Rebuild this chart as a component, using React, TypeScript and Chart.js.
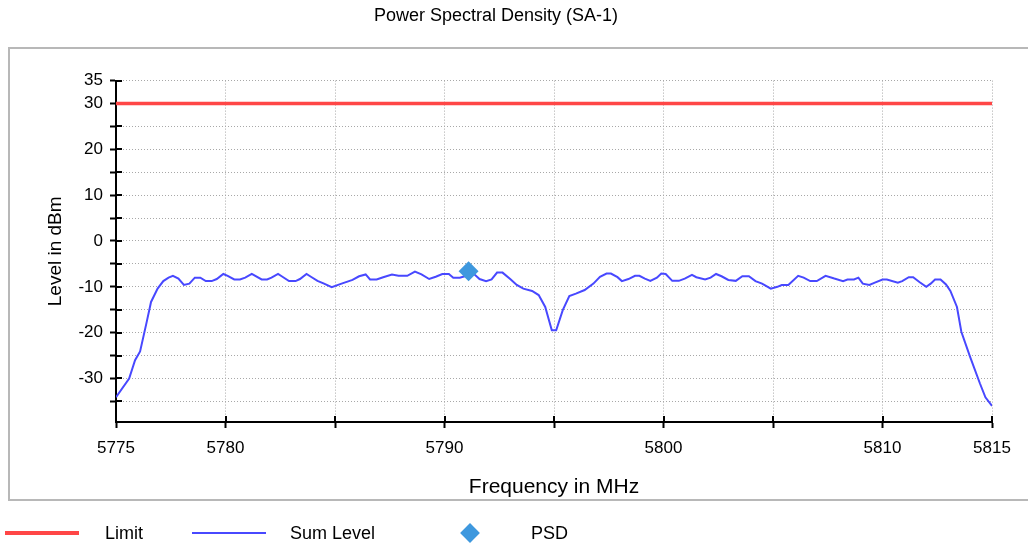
import React, { useEffect, useRef } from 'react';
import { Chart, registerables } from 'chart.js';

Chart.register(...registerables);

// ---------- data ----------
const chartTitle = 'Power Spectral Density (SA-1)';
const xAxisTitle = 'Frequency in MHz';
const yAxisTitle = 'Level in dBm';

const sumLevelFreq = [
  5775.0, 5775.6, 5775.87, 5776.1, 5776.4, 5776.6, 5776.9, 5777.16, 5777.4, 5777.6,
  5777.85, 5778.1, 5778.35, 5778.6, 5778.85, 5779.1, 5779.37, 5779.6, 5779.9, 5780.1,
  5780.4, 5780.66, 5780.9, 5781.2, 5781.65, 5781.9, 5782.1, 5782.4, 5782.6, 5782.9,
  5783.2, 5783.4, 5783.7, 5783.9, 5784.2, 5784.5, 5784.85, 5785.3, 5785.8, 5786.1,
  5786.4, 5786.6, 5786.9, 5787.2, 5787.6, 5787.9, 5788.3, 5788.65, 5788.95, 5789.3,
  5789.6, 5789.9, 5790.2, 5790.4, 5790.7, 5791.0, 5791.3, 5791.6, 5791.9, 5792.15,
  5792.4, 5792.65, 5793.0, 5793.3, 5793.6, 5794.0, 5794.3, 5794.6, 5794.9, 5795.1,
  5795.4, 5795.7, 5796.0, 5796.4, 5796.8, 5797.1, 5797.4, 5797.6, 5797.9, 5798.1,
  5798.4, 5798.7, 5798.9, 5799.15, 5799.4, 5799.7, 5799.9, 5800.1, 5800.4, 5800.7,
  5800.97, 5801.3, 5801.5, 5801.9, 5802.15, 5802.4, 5802.65, 5802.96, 5803.3, 5803.6,
  5803.9, 5804.2, 5804.5, 5804.9, 5805.2, 5805.4, 5805.7, 5806.15, 5806.4, 5806.7,
  5807.0, 5807.4, 5807.8, 5808.2, 5808.4, 5808.7, 5808.9, 5809.1, 5809.4, 5809.65,
  5810.0, 5810.2, 5810.7, 5810.9, 5811.2, 5811.4, 5811.7, 5812.0, 5812.2, 5812.4,
  5812.65, 5812.9, 5813.1, 5813.4, 5813.6, 5814.0, 5814.45, 5814.7, 5815.0,
];

const sumLevelDbm = [
  -34.1, -30.0, -26.0, -24.1, -17.7, -13.3, -10.4, -8.75, -8.0, -7.6,
  -8.2, -9.6, -9.3, -8.0, -8.0, -8.75, -8.75, -8.3, -7.2, -7.6,
  -8.4, -8.4, -8.0, -7.2, -8.4, -8.4, -8.0, -7.2, -7.8, -8.75,
  -8.75, -8.3, -7.2, -7.8, -8.7, -9.3, -10.1, -9.3, -8.5, -7.7,
  -7.3, -8.4, -8.4, -7.9, -7.3, -7.6, -7.6, -6.7, -7.3, -8.3,
  -7.8, -7.2, -7.2, -8.0, -8.0, -7.6, -7.0, -8.3, -8.75, -8.4,
  -6.9, -6.9, -8.3, -9.6, -10.4, -10.9, -11.8, -14.4, -19.5, -19.5,
  -15.1, -12.0, -11.5, -10.7, -9.3, -7.8, -7.1, -7.1, -7.9, -8.75,
  -8.3, -7.6, -7.6, -8.2, -8.7, -8.0, -7.1, -7.2, -8.7, -8.7,
  -8.2, -7.4, -7.9, -8.4, -8.0, -7.2, -7.7, -8.5, -8.7, -7.7,
  -7.7, -8.75, -9.3, -10.4, -10.0, -9.6, -9.6, -7.6, -8.0, -8.75,
  -8.75, -7.6, -8.2, -8.75, -8.4, -8.4, -8.0, -9.3, -9.6, -9.1,
  -8.4, -8.4, -9.1, -8.75, -7.9, -7.9, -9.0, -10.0, -9.3, -8.4,
  -8.4, -9.5, -10.9, -14.4, -19.8, -25.3, -31.1, -34.1, -36.0,
];

const limitFreq = [5775, 5815];
const limitDbm = [30, 30];

const psdFreq = [5791.1];
const psdDbm = [-6.6];

const xLabelledTicks = [5775, 5780, 5790, 5800, 5810, 5815];
const yLabelledTicks = [35, 30, 20, 10, 0, -10, -20, -30];

const legendNames = ['Limit', 'Sum Level', 'PSD'];

// ---------- styles ----------
const FONT = "'Liberation Sans', Arial, sans-serif";
const RED = '#ff4646';
const BLUE = '#4848ff';
const DIAMOND = '#3e98de';

const toPoints = (xs: number[], ys: number[]) => xs.map((x, i) => ({ x, y: ys[i] }));

const framePlugin = {
  id: 'frameAndTicks',
  beforeDraw(chart: any) {
    const ctx = chart.ctx;
    ctx.save();
    ctx.fillStyle = '#ffffff';
    ctx.fillRect(0, 0, chart.width, chart.height);
    ctx.strokeStyle = '#b8b8b8';
    ctx.lineWidth = 2;
    ctx.strokeRect(9, 48, chart.width + 40, 452);
    ctx.restore();
  },
  beforeDatasetsDraw(chart: any) {
    const { ctx, chartArea } = chart;
    const xs = chart.scales.x;
    const ys = chart.scales.y;
    ctx.save();
    ctx.strokeStyle = '#000';
    ctx.lineWidth = 2;
    ctx.beginPath();
    ys.ticks.forEach((t: any) => {
      const py = Math.round(ys.getPixelForValue(t.value));
      ctx.moveTo(chartArea.left, py);
      ctx.lineTo(chartArea.left + 6, py);
    });
    xs.ticks.forEach((t: any) => {
      const px = Math.round(xs.getPixelForValue(t.value));
      ctx.moveTo(px, chartArea.bottom);
      ctx.lineTo(px, chartArea.bottom - 6);
    });
    ctx.stroke();
    ctx.restore();
  },
};

export default function App() {
  const ref = useRef<HTMLCanvasElement>(null);

  useEffect(() => {
    if (!ref.current) return;
    Chart.defaults.font.family = FONT;
    Chart.defaults.color = '#000';
    const gridCommon = {
      color: '#a8a8a8',
      lineWidth: 1,
      tickColor: '#000',
      tickWidth: 2,
      tickLength: 6,
    };
    const borderCommon = { display: true, color: '#000', width: 2, dash: [1, 2] };
    const chart = new Chart(ref.current, {
      type: 'line',
      data: {
        datasets: [
          {
            label: legendNames[2],
            data: toPoints(psdFreq, psdDbm),
            showLine: false,
            pointStyle: 'rectRot',
            pointRadius: 10,
            pointBackgroundColor: DIAMOND,
            pointBorderWidth: 0,
            borderColor: DIAMOND,
            backgroundColor: DIAMOND,
            order: 0,
          },
          {
            label: legendNames[1],
            data: toPoints(sumLevelFreq, sumLevelDbm),
            borderColor: BLUE,
            borderWidth: 2,
            pointRadius: 0,
            tension: 0,
            order: 1,
          },
          {
            label: legendNames[0],
            data: toPoints(limitFreq, limitDbm),
            borderColor: RED,
            borderWidth: 3.5,
            pointRadius: 0,
            order: 2,
          },
        ],
      },
      options: {
        animation: false,
        responsive: false,
        layout: { padding: { left: 0, right: 36, top: 0, bottom: 0 } },
        plugins: {
          legend: { display: false },
          tooltip: { enabled: false },
          title: {
            display: true,
            text: chartTitle,
            color: '#000',
            font: { size: 18, weight: 'normal' },
            padding: { top: 5, bottom: 54 },
          },
        },
        scales: {
          x: {
            type: 'linear',
            min: 5775,
            max: 5815,
            afterFit: (s: any) => {
              s.height = 128;
            },
            ticks: {
              stepSize: 5,
              autoSkip: false,
              maxRotation: 0,
              padding: 10,
              font: { size: 17 },
              color: '#000',
              callback: (v: any) => (xLabelledTicks.includes(Number(v)) ? String(v) : ''),
            },
            grid: gridCommon,
            border: borderCommon,
            title: {
              display: true,
              text: xAxisTitle,
              font: { size: 21 },
              color: '#000',
              padding: { top: 0, bottom: 50 },
            },
          },
          y: {
            type: 'linear',
            min: -39.5,
            max: 35,
            afterFit: (s: any) => {
              s.width = 116;
            },
            ticks: {
              stepSize: 5,
              includeBounds: false,
              padding: 7,
              font: { size: 17 },
              color: '#000',
              callback: (v: any) => (yLabelledTicks.includes(Number(v)) ? String(v) : ''),
            },
            grid: gridCommon,
            border: borderCommon,
            title: {
              display: true,
              text: yAxisTitle,
              font: { size: 19 },
              color: '#000',
              padding: { top: 44, bottom: 0 },
            },
          },
        },
      },
      plugins: [framePlugin],
    } as any);
    return () => chart.destroy();
  }, []);

  const legendText: React.CSSProperties = {
    position: 'absolute',
    top: 522,
    height: 22,
    lineHeight: '22px',
    fontSize: 18,
    color: '#000',
    whiteSpace: 'nowrap',
  };

  return (
    <div
      style={{
        position: 'absolute',
        left: 0,
        top: 0,
        width: 1028,
        height: 550,
        overflow: 'hidden',
        background: '#fff',
        fontFamily: FONT,
      }}
    >
      <canvas ref={ref} width={1028} height={550} style={{ display: 'block' }} />
      <div style={{ position: 'absolute', left: 5, top: 531, width: 74, height: 4, background: RED }} />
      <div style={{ ...legendText, left: 105 }}>{legendNames[0]}</div>
      <div style={{ position: 'absolute', left: 192, top: 532, width: 74, height: 2, background: BLUE }} />
      <div style={{ ...legendText, left: 290 }}>{legendNames[1]}</div>
      <div
        style={{
          position: 'absolute',
          left: 463,
          top: 526,
          width: 14,
          height: 14,
          background: DIAMOND,
          transform: 'rotate(45deg)',
        }}
      />
      <div style={{ ...legendText, left: 531 }}>{legendNames[2]}</div>
    </div>
  );
}
